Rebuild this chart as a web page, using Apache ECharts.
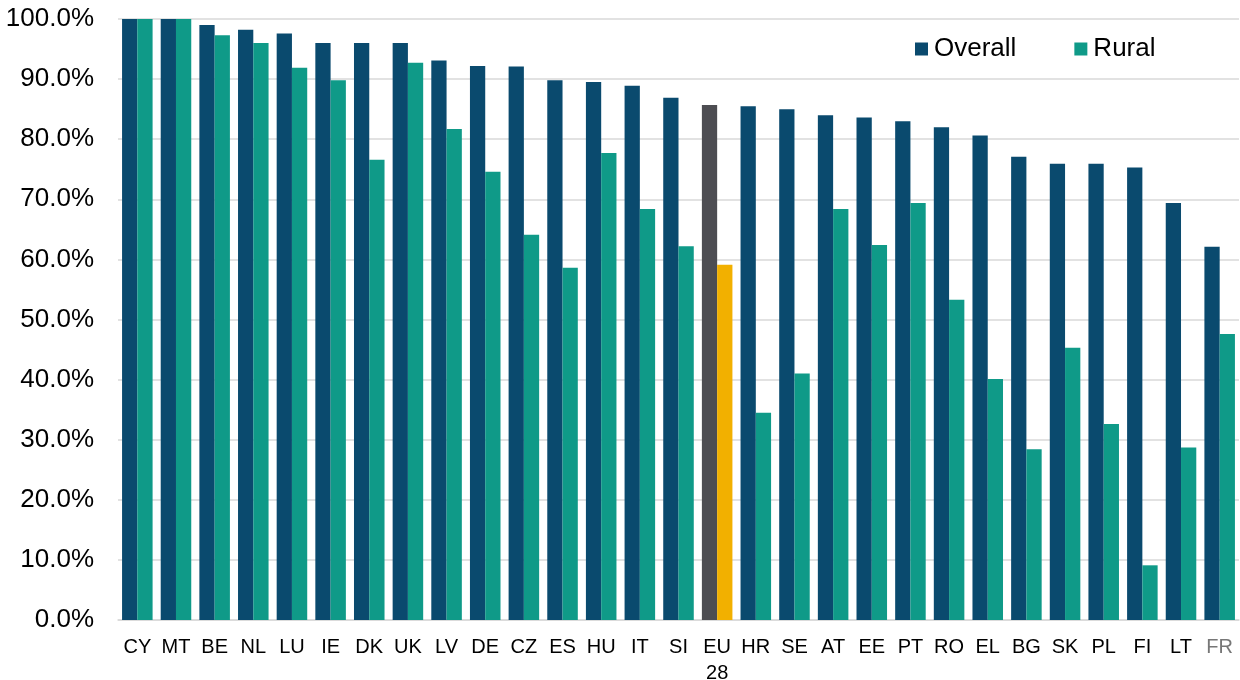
<!DOCTYPE html>
<html>
<head>
<meta charset="utf-8">
<script src="https://cdn.jsdelivr.net/npm/echarts@6/dist/echarts.min.js"></script>
<style>
  html, body { margin: 0; padding: 0; background: #fff; }
  #chart { width: 1240px; height: 680px; }
</style>
</head>
<body>
<div id="chart"></div>
<script>
const countries = ['CY', 'MT', 'BE', 'NL', 'LU', 'IE', 'DK', 'UK', 'LV', 'DE', 'CZ', 'ES', 'HU', 'IT', 'SI',
  'EU\n28', 'HR', 'SE', 'AT', 'EE', 'PT', 'RO', 'EL', 'BG', 'SK', 'PL', 'FI', 'LT', 'FR'];
const overall = [100, 100, 99.0, 98.2, 97.6, 96.0, 96.0, 96.0, 93.1, 92.2, 92.1, 89.8, 89.5, 88.9, 86.9,
  85.7, 85.5, 85.0, 84.0, 83.6, 83.0, 82.0, 80.6, 77.1, 75.9, 75.9, 75.3, 69.4, 62.1];
const rural = [100, 100, 97.3, 96.0, 91.9, 89.8, 76.6, 92.7, 81.7, 74.6, 64.1, 58.6, 77.7, 68.4, 62.2,
  59.1, 34.5, 41.0, 68.4, 62.4, 69.4, 53.3, 40.1, 28.4, 45.3, 32.6, 9.1, 28.7, 47.6];

const euIndex = countries.indexOf('EU\n28');
const colOverall = '#0A4A6E';
const colRural = '#0F9A88';

const chart = echarts.init(document.getElementById('chart'));

chart.setOption({
  animation: false,
  textStyle: { fontFamily: 'Liberation Sans, Arial, sans-serif' },
  grid: { left: 118, right: 1, top: 19, bottom: 60, outerBoundsMode: 'none' },
  legend: {
    left: 910,
    top: 31,
    icon: 'rect',
    itemWidth: 13,
    itemHeight: 13,
    itemGap: 58,
    textStyle: { fontSize: 26, color: '#000', padding: [0, 0, 0, 1] },
    data: ['Overall', 'Rural']
  },
  xAxis: {
    type: 'category',
    data: countries.map(c => c === 'FR' ? { value: c, textStyle: { color: '#777' } } : c),
    axisTick: { show: false },
    axisLine: { lineStyle: { color: '#d9d9d9', width: 1.5 } },
    axisLabel: { color: '#000', fontSize: 20, margin: 14, interval: 0, lineHeight: 26 }
  },
  yAxis: {
    type: 'value',
    min: 0,
    max: 100,
    interval: 10,
    axisLine: { show: false },
    axisTick: { show: false },
    splitLine: { lineStyle: { color: '#d9d9d9', width: 1.5 } },
    axisLabel: { color: '#000', fontSize: 26, margin: 24, formatter: v => v.toFixed(1) + '%' }
  },
  series: [
    {
      name: 'Overall',
      type: 'bar',
      barGap: '0%',
      barCategoryGap: '21%',
      itemStyle: { color: colOverall },
      data: overall.map((v, i) => i === euIndex ? { value: v, itemStyle: { color: '#4D4D52' } } : v)
    },
    {
      name: 'Rural',
      type: 'bar',
      itemStyle: { color: colRural },
      data: rural.map((v, i) => i === euIndex ? { value: v, itemStyle: { color: '#F2B000' } } : v)
    }
  ]
});
</script>
</body>
</html>
